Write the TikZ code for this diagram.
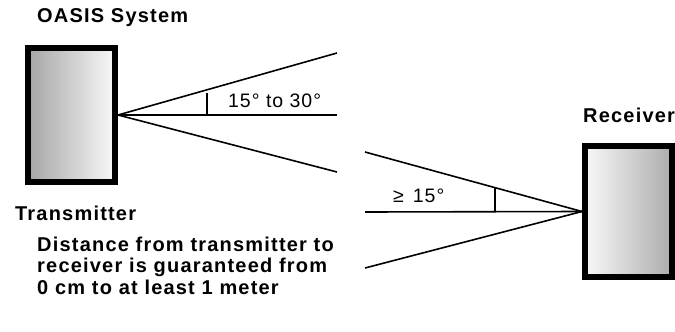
\documentclass[tikz,border=0pt]{standalone}
\usepackage{fontspec}
\setmainfont{Liberation Sans}
\begin{document}
\begin{tikzpicture}[x=1pt,y=-1pt,
  lbl/.style={inner sep=0pt,anchor=west,font=\fontsize{20}{21.5}\selectfont\bfseries\addfontfeature{LetterSpace=6}},
  anglbl/.style={inner sep=0pt,anchor=west,font=\fontsize{19.5}{21}\selectfont\addfontfeature{LetterSpace=5}},
  ray/.style={line width=1.6pt},
  angmark/.style={line width=2.6pt},
  devbox/.style={draw=black,line width=6pt,minimum width=87pt,minimum height=134pt,inner sep=0pt}]
\useasboundingbox (0,0) rectangle (675,332);
% transmitter and receiver
\node[devbox,left color=gray!70,right color=gray!5] (tx) at (71.5,115) {};
\node[devbox,minimum height=131pt,left color=gray!5,right color=gray!65] (rx) at (628.5,211.5) {};
\coordinate (t1) at (337,53);
\coordinate (t2) at (337,115);
\coordinate (t3) at (337,172);
\draw[ray] (tx.east) -- (t1);
\draw[ray] (tx.east) -- (t2);
\draw[ray] (tx.east) -- (t3);
\coordinate (r1) at (365,152);
\coordinate (r2) at (365,212);
\coordinate (r3) at (365,268);
\draw[ray] (r1) -- (rx.west);
\draw[ray] (r2) -- (rx.west);
\draw[ray] (r3) -- (rx.west);
% angle marks
\coordinate (m1a) at (207,93);
\coordinate (m1b) at (207,114);
\draw[angmark] (m1a) -- (m1b);
\coordinate (m2a) at (495,188);
\coordinate (m2b) at (495,211);
\draw[angmark] (m2a) -- (m2b);
% labels
\node[lbl] (title) at (37,18) {OASIS System};
\node[lbl] (txl) at (15,213) {Transmitter};
\node[lbl] (rxl) at (583,115) {Receiver};
\node[anglbl] (a1) at (228,101) {15° to 30°};
\node[anglbl] (a2) at (393,196) {≥\hspace{9pt}15°};
\node[lbl,align=left,anchor=north west] (dist) at (37,236.5) {Distance from transmitter to\\receiver is guaranteed from\\0 cm to at least 1 meter};
\end{tikzpicture}
\end{document}
